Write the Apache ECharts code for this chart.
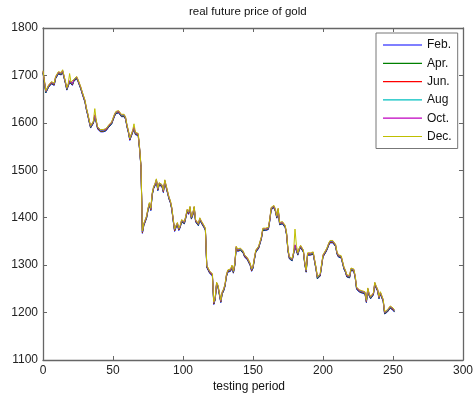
<!DOCTYPE html>
<html>
<head>
<meta charset="utf-8">
<script src="https://cdn.jsdelivr.net/npm/echarts@6/dist/echarts.min.js"></script>
<style>html,body{margin:0;padding:0;background:#fff}#c{width:476px;height:396px}</style>
</head>
<body>
<div id="c"></div>
<script>
var seriesNames = ['Feb.', 'Apr.', 'Jun.', 'Aug', 'Oct.', 'Dec.'];
var seriesColors = ['#0000ff', '#008000', '#ff0000', '#00bfbf', '#bf00bf', '#bfbf00'];
var xTicks = [0, 50, 100, 150, 200, 250, 300];
var yTicks = [1100, 1200, 1300, 1400, 1500, 1600, 1700, 1800];

var feb = [
1705,1685,1663,1667,1675,1671,1682,1685,1679,1693,1697,1703,
1707,1701,1707,1695,1683,1669,1677,1685,1681,1679,1687,1691,
1693,1687,1685,1671,1661,1657,1643,1627,1615,1601,1589,1585,
1599,1613,1601,1587,1583,1581,1579,1581,1583,1583,1587,1591,
1593,1597,1605,1613,1619,1617,1621,1619,1613,1609,1613,1607,
1591,1579,1563,1559,1579,1587,1575,1579,1573,1543,1505,1367,
1383,1391,1399,1415,1427,1415,1447,1461,1467,1477,1457,1469,
1473,1465,1453,1475,1477,1451,1439,1431,1417,1393,1371,1379,
1385,1373,1379,1391,1393,1387,1399,1413,1407,1419,1397,1405,
1419,1391,1387,1383,1395,1389,1385,1379,1373,1295,1291,1283,
1279,1277,1217,1227,1259,1253,1251,1221,1239,1245,1255,1275,
1285,1283,1287,1295,1283,1299,1335,1329,1325,1331,1329,1325,
1317,1313,1311,1307,1299,1287,1293,1311,1327,1329,1335,1333,
1355,1373,1371,1373,1371,1375,1393,1417,1421,1421,1413,1399,
1415,1385,1381,1387,1389,1379,1363,1329,1313,1315,1309,1323,
1339,1337,1321,1331,1337,1335,1327,1301,1285,1321,1325,1321,
1325,1323,1307,1291,1271,1275,1277,1281,1317,1321,1327,1333,
1341,1347,1351,1347,1345,1339,1323,1317,1313,1315,1311,1291,
1285,1275,1271,1273,1289,1289,1287,1273,1249,1245,1243,1243,
1241,1243,1239,1221,1247,1235,1229,1233,1237,1259,1251,1245,
1229,1239,1241,1223,1197,1199,1201,1205,1209,1211,1205,1201
];
var apr = [
1706,1686,1664,1668,1676,1672,1683,1686,1680,1694,1698,1704,
1708,1702,1708,1696,1684,1670,1678,1686,1682,1680,1688,1692,
1694,1688,1686,1672,1662,1658,1644,1628,1616,1602,1590,1586,
1600,1614,1602,1588,1584,1582,1580,1582,1584,1584,1588,1592,
1594,1598,1606,1614,1620,1618,1622,1620,1614,1610,1614,1608,
1592,1580,1564,1560,1580,1588,1576,1580,1574,1544,1506,1368,
1384,1392,1400,1416,1428,1416,1448,1462,1468,1478,1458,1470,
1474,1466,1454,1476,1478,1452,1440,1432,1418,1394,1372,1380,
1386,1374,1380,1392,1394,1388,1400,1414,1408,1420,1398,1406,
1420,1392,1388,1384,1396,1390,1386,1380,1374,1296,1292,1284,
1280,1278,1218,1228,1260,1254,1252,1222,1240,1246,1256,1276,
1286,1284,1288,1296,1284,1300,1336,1330,1326,1332,1330,1326,
1318,1314,1312,1308,1300,1288,1294,1312,1328,1330,1336,1334,
1356,1374,1372,1374,1372,1376,1394,1418,1422,1422,1414,1400,
1416,1386,1382,1388,1390,1380,1364,1330,1314,1316,1310,1324,
1340,1338,1322,1332,1338,1336,1328,1302,1286,1322,1326,1322,
1326,1324,1308,1292,1272,1276,1278,1282,1318,1322,1328,1334,
1342,1348,1352,1348,1346,1340,1324,1318,1314,1316,1312,1292,
1286,1276,1272,1274,1290,1290,1288,1274,1250,1246,1244,1244,
1242,1244,1240,1222,1248,1236,1230,1234,1238,1260,1252,1246,
1230,1240,1242,1224,1198,1200,1202,1206,1210,1212,1206,1202
];
var jun = [
1707,1687,1665,1669,1677,1673,1684,1687,1681,1695,1699,1705,
1709,1703,1709,1697,1685,1671,1679,1687,1683,1681,1689,1693,
1695,1689,1687,1673,1663,1659,1645,1629,1617,1603,1591,1587,
1601,1615,1603,1589,1585,1583,1581,1583,1585,1585,1589,1593,
1595,1599,1607,1615,1621,1619,1623,1621,1615,1611,1615,1609,
1593,1581,1565,1561,1581,1589,1577,1581,1575,1545,1507,1369,
1385,1393,1401,1417,1429,1417,1449,1463,1469,1479,1459,1471,
1475,1467,1455,1477,1479,1453,1441,1433,1419,1395,1373,1381,
1387,1375,1381,1393,1395,1389,1401,1415,1409,1421,1399,1407,
1421,1393,1389,1385,1397,1391,1387,1381,1375,1297,1293,1285,
1281,1279,1219,1229,1261,1255,1253,1223,1241,1247,1257,1277,
1287,1285,1289,1297,1285,1301,1337,1331,1327,1333,1331,1327,
1319,1315,1313,1309,1301,1289,1295,1313,1329,1331,1337,1335,
1357,1375,1373,1375,1373,1377,1395,1419,1423,1423,1415,1401,
1417,1387,1383,1389,1391,1381,1365,1331,1315,1317,1311,1325,
1341,1339,1323,1333,1339,1337,1329,1303,1287,1323,1327,1323,
1327,1325,1309,1293,1273,1277,1279,1283,1319,1323,1329,1335,
1343,1349,1353,1349,1347,1341,1325,1319,1315,1317,1313,1293,
1287,1277,1273,1275,1291,1291,1289,1275,1251,1247,1245,1245,
1243,1245,1241,1223,1249,1237,1231,1235,1239,1261,1253,1247,
1231,1241,1243,1225,1199,1201,1203,1207,1211,1213,1207,1203
];
var aug = [
1708,1688,1666,1670,1678,1674,1685,1688,1682,1696,1700,1706,
1710,1704,1710,1698,1686,1672,1680,1688,1684,1682,1690,1694,
1696,1690,1688,1674,1664,1660,1646,1630,1618,1604,1592,1588,
1602,1616,1604,1590,1586,1584,1582,1584,1586,1586,1590,1594,
1596,1600,1608,1616,1622,1620,1624,1622,1616,1612,1616,1610,
1594,1582,1566,1562,1582,1590,1578,1582,1576,1546,1508,1370,
1386,1394,1402,1418,1430,1418,1450,1464,1470,1480,1460,1472,
1476,1468,1456,1478,1480,1454,1442,1434,1420,1396,1374,1382,
1388,1376,1382,1394,1396,1390,1402,1416,1410,1422,1400,1408,
1422,1394,1390,1386,1398,1392,1388,1382,1376,1298,1294,1286,
1282,1280,1220,1230,1262,1256,1254,1224,1242,1248,1258,1278,
1288,1286,1290,1298,1286,1302,1338,1332,1328,1334,1332,1328,
1320,1316,1314,1310,1302,1290,1296,1314,1330,1332,1338,1336,
1358,1376,1374,1376,1374,1378,1396,1420,1424,1424,1416,1402,
1418,1388,1384,1390,1392,1382,1366,1332,1316,1318,1312,1326,
1342,1340,1324,1334,1340,1338,1330,1304,1288,1324,1328,1324,
1328,1326,1310,1294,1274,1278,1280,1284,1320,1324,1330,1336,
1344,1350,1354,1350,1348,1342,1326,1320,1316,1318,1314,1294,
1288,1278,1274,1276,1292,1292,1290,1276,1252,1248,1246,1246,
1244,1246,1242,1224,1250,1238,1232,1236,1240,1262,1254,1248,
1232,1242,1244,1226,1200,1202,1204,1208,1212,1214,1208,1204
];
var oct = [
1709,1689,1667,1671,1679,1675,1686,1689,1683,1697,1701,1707,
1711,1705,1711,1699,1687,1673,1681,1689,1685,1683,1691,1695,
1697,1691,1689,1675,1665,1661,1647,1631,1619,1605,1593,1589,
1603,1617,1605,1591,1587,1585,1583,1585,1587,1587,1591,1595,
1597,1601,1609,1617,1623,1621,1625,1623,1617,1613,1617,1611,
1595,1583,1567,1563,1583,1591,1579,1583,1577,1547,1509,1371,
1387,1395,1403,1419,1431,1419,1451,1465,1471,1481,1461,1473,
1477,1469,1457,1479,1481,1455,1443,1435,1421,1397,1375,1383,
1389,1377,1383,1395,1397,1391,1403,1417,1411,1423,1401,1409,
1423,1395,1391,1387,1399,1393,1389,1383,1377,1299,1295,1287,
1283,1281,1221,1231,1263,1257,1255,1225,1243,1249,1259,1279,
1289,1287,1291,1299,1287,1303,1339,1333,1329,1335,1333,1329,
1321,1317,1315,1311,1303,1291,1297,1315,1331,1333,1339,1337,
1359,1377,1375,1377,1375,1379,1397,1421,1425,1425,1417,1403,
1419,1389,1385,1391,1393,1383,1367,1333,1317,1319,1313,1327,
1343,1341,1325,1335,1341,1339,1331,1305,1289,1325,1329,1325,
1329,1327,1311,1295,1275,1279,1281,1285,1321,1325,1331,1337,
1345,1351,1355,1351,1349,1343,1327,1321,1317,1319,1315,1295,
1289,1279,1275,1277,1293,1293,1291,1277,1253,1249,1247,1247,
1245,1247,1243,1225,1251,1239,1233,1237,1241,1263,1255,1249,
1233,1243,1245,1227,1201,1203,1205,1209,1213,1215,1209,1205
];
var dec = [
1710,1690,1668,1672,1680,1676,1687,1690,1684,1698,1702,1708,
1712,1706,1712,1700,1688,1674,1682,1704,1686,1684,1692,1696,
1698,1692,1690,1676,1666,1662,1648,1632,1620,1606,1594,1590,
1604,1630,1606,1592,1588,1586,1584,1586,1588,1588,1592,1596,
1598,1602,1610,1618,1624,1622,1626,1624,1618,1614,1618,1612,
1596,1584,1568,1564,1584,1598,1580,1584,1578,1548,1510,1372,
1388,1396,1404,1420,1432,1420,1452,1466,1472,1482,1462,1474,
1478,1470,1458,1480,1482,1456,1444,1436,1422,1398,1376,1384,
1390,1378,1384,1396,1398,1392,1404,1418,1412,1424,1402,1410,
1424,1396,1392,1388,1400,1394,1390,1384,1378,1300,1296,1288,
1284,1282,1222,1232,1264,1258,1256,1226,1244,1250,1260,1280,
1290,1288,1292,1300,1288,1304,1340,1334,1330,1336,1334,1330,
1322,1318,1316,1312,1304,1292,1298,1316,1332,1334,1340,1338,
1360,1378,1376,1378,1376,1380,1398,1422,1426,1426,1418,1404,
1420,1390,1386,1392,1394,1384,1368,1334,1318,1320,1314,1328,
1376,1342,1326,1336,1342,1340,1332,1306,1290,1326,1330,1326,
1330,1328,1312,1296,1276,1280,1282,1286,1322,1326,1332,1338,
1346,1352,1356,1352,1350,1344,1328,1322,1318,1320,1316,1296,
1290,1280,1276,1278,1294,1294,1292,1278,1254,1250,1248,1248,
1246,1248,1244,1226,1252,1240,1234,1238,1242,1264,1256,1250,
1234,1244,1246,1228,1202,1204,1206,1210,1214,1216,1210,1206
];

var allSeries = [feb, apr, jun, aug, oct, dec];

var chart = echarts.init(document.getElementById('c'), null, {renderer: 'canvas'});
var axisColor = '#666';
var labelStyle = {color: '#222', fontFamily: 'Liberation Sans, Arial, sans-serif', fontSize: 12,
  formatter: function (v) { return String(v); }};
function xAxisDef(pos, showLabel) {
  return {
    type: 'value', position: pos, min: xTicks[0], max: xTicks[xTicks.length - 1],
    interval: xTicks[1] - xTicks[0],
    axisLine: {show: true, onZero: false, lineStyle: {color: axisColor, width: 1.3}},
    axisTick: {show: true, inside: true, length: 4, lineStyle: {color: axisColor, width: 1}},
    axisLabel: Object.assign({show: showLabel, margin: 5}, labelStyle),
    splitLine: {show: false}
  };
}
function yAxisDef(pos, showLabel) {
  return {
    type: 'value', position: pos, min: yTicks[0], max: yTicks[yTicks.length - 1],
    interval: yTicks[1] - yTicks[0],
    axisLine: {show: true, onZero: false, lineStyle: {color: axisColor, width: 1.3}},
    axisTick: {show: true, inside: true, length: 4, lineStyle: {color: axisColor, width: 1}},
    axisLabel: Object.assign({show: showLabel, margin: 5}, labelStyle),
    splitLine: {show: false}
  };
}

var series = allSeries.map(function (arr, k) {
  return {
    name: seriesNames[k], type: 'line', xAxisIndex: 0, yAxisIndex: 0,
    data: arr.map(function (v, i) { return [i, v]; }),
    showSymbol: false, symbol: 'none', animation: false,
    color: seriesColors[k],
    lineStyle: {color: seriesColors[k], width: 1},
    itemStyle: {color: seriesColors[k]},
    z: 2 + k
  };
});

chart.setOption({
  animation: false,
  backgroundColor: '#fff',
  grid: {left: 43, right: 11, top: 28, bottom: 36, containLabel: false},
  xAxis: [xAxisDef('bottom', true), xAxisDef('top', false)],
  yAxis: [yAxisDef('left', true), yAxisDef('right', false)],
  legend: {
    show: true,
    orient: 'vertical', left: 376, top: 33, z: 50,
    icon: 'rect',
    padding: [5, 6, 5, 7], itemGap: 4.3, itemWidth: 39, itemHeight: 1.2,
    backgroundColor: '#fff', borderColor: '#777', borderWidth: 1,
    textStyle: {color: '#111', fontFamily: 'Liberation Sans, Arial, sans-serif', fontSize: 12, lineHeight: 14},
    data: seriesNames
  },
  graphic: [
    {type: 'text', left: 189, top: 6, z: 100,
     style: {text: 'real future price of gold', fill: '#111', font: '11.5px "Liberation Sans", Arial, sans-serif'}},
    {type: 'text', top: 381, left: 213, z: 100,
     style: {text: 'testing period', fill: '#111', font: '12px "Liberation Sans", Arial, sans-serif'}}
  ],
  series: series
});
</script>
</body>
</html>
